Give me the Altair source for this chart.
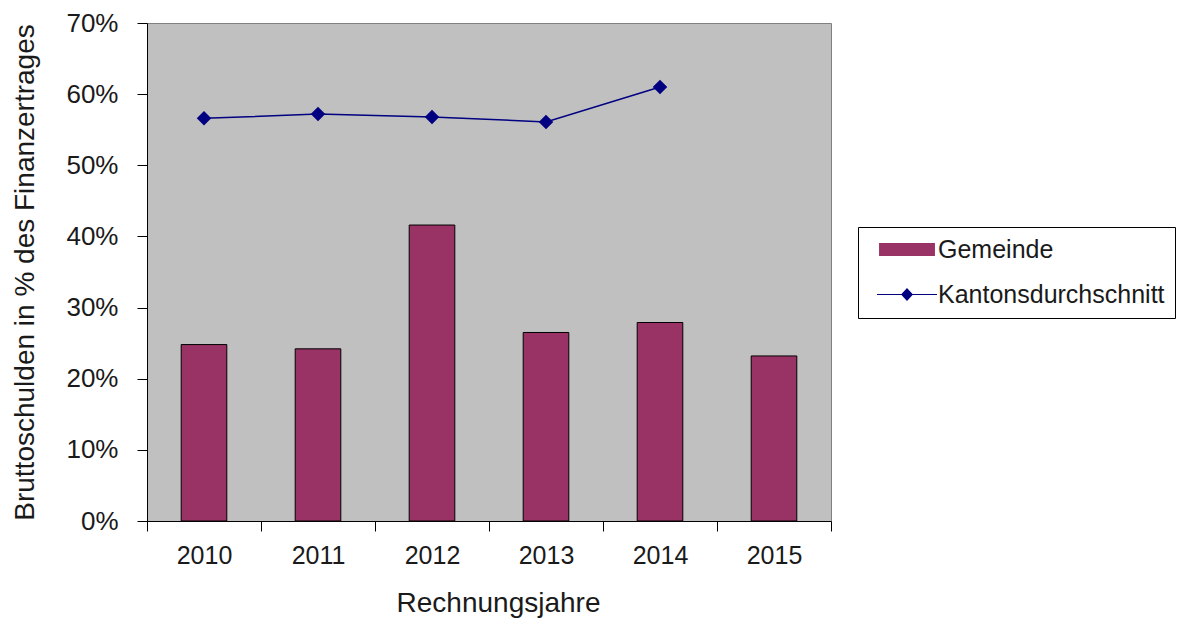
import altair as alt
import pandas as pd

years = ["2010", "2011", "2012", "2013", "2014", "2015"]
gemeinde = [0.248, 0.242, 0.416, 0.265, 0.279, 0.232]
kanton_years = ["2010", "2011", "2012", "2013", "2014"]
kanton = [0.566, 0.572, 0.568, 0.561, 0.610]
series_names = ["Gemeinde", "Kantonsdurchschnitt"]
y_ticks = [0, 0.1, 0.2, 0.3, 0.4, 0.5, 0.6, 0.7]

df = pd.concat([
    pd.DataFrame({"year": years, "value": gemeinde, "series": series_names[0]}),
    pd.DataFrame({"year": kanton_years, "value": kanton, "series": series_names[1]}),
], ignore_index=True)

FONT = "Liberation Sans"
TXT = "#1a1a1a"

bar_path = "M-2.33,-0.54H2.33V0.54H-2.33Z"
line_path = "M-2.5,-0.05H2.5V0.05H-2.5Z M0,-0.55L0.5,0L0,0.55L-0.5,0Z"

cscale = alt.Scale(domain=series_names, range=["#993366", "#000080"])
sscale = alt.Scale(domain=series_names, range=[bar_path, line_path])

leg = alt.Legend(
    title=None, orient="none", legendX=711, legendY=204,
    padding=10, strokeColor="black", fillColor="white",
    symbolSize=576, symbolOffset=26.5, labelOffset=18.5, rowPadding=19,
    labelFontSize=25, labelFont=FONT, labelColor=TXT, labelLimit=500,
    symbolStrokeColor="black", symbolStrokeWidth=0.8, symbolOpacity=1,
)

x = alt.X(
    "year:O", sort=years,
    scale=alt.Scale(paddingInner=0, paddingOuter=0),
    axis=alt.Axis(
        title="Rechnungsjahre", labelAngle=0, tickBand="extent", tickSize=10,
        labelPadding=12, labelFontSize=25, labelFont=FONT, labelColor=TXT,
        titleFontSize=28, titleFont=FONT, titleColor=TXT, titleFontWeight="normal",
        titleX=351, titleY=90, titleBaseline="alphabetic", titleAlign="center",
        domainColor="black", tickColor="black", grid=False,
    ),
)
y = alt.Y(
    "value:Q",
    scale=alt.Scale(domain=[0, 0.7], nice=False),
    axis=alt.Axis(
        title="Bruttoschulden in % des Finanzertrages", values=y_ticks, format=".0%",
        tickSize=10, labelPadding=19, labelFontSize=26, labelFont=FONT, labelColor=TXT,
        titleFontSize=28, titleFont=FONT, titleColor=TXT, titleFontWeight="normal",
        titleX=-122, titleY=249, titleAngle=-90, titleBaseline="middle", titleAlign="center",
        domainColor="black", tickColor="black", grid=False,
    ),
)

base = alt.Chart(df)

bars = base.transform_filter(alt.datum.series == "Gemeinde").mark_bar(
    width=alt.RelativeBandSize(0.4), stroke="black", strokeWidth=1, opacity=1
).encode(x=x, y=y, color=alt.Color("series:N", scale=cscale, legend=leg))

line = base.transform_filter(alt.datum.series == "Kantonsdurchschnitt").mark_line(
    color="#000080", strokeWidth=1.5
).encode(x=x, y=y)

points = base.transform_filter(alt.datum.series == "Kantonsdurchschnitt").mark_point(
    filled=True, shape="diamond", size=210, color="#000080", opacity=1
).encode(x=x, y=y)

legend_layer = base.mark_point(filled=True, size=0).encode(
    x=x, y=y,
    color=alt.Color("series:N", scale=cscale, legend=leg),
    shape=alt.Shape("series:N", scale=sscale, legend=leg),
)

chart = alt.layer(bars, line, points, legend_layer).properties(
    width=684, height=498,
    autosize=alt.AutoSizeParams(type="none"),
    padding={"left": 139, "top": 15, "right": 345, "bottom": 98},
).configure(
    font=FONT, background="white"
).configure_view(
    fill="#C0C0C0", stroke="#808080", strokeWidth=1
)

chart.save("out.html", embed_options={"renderer": "svg", "actions": False})
